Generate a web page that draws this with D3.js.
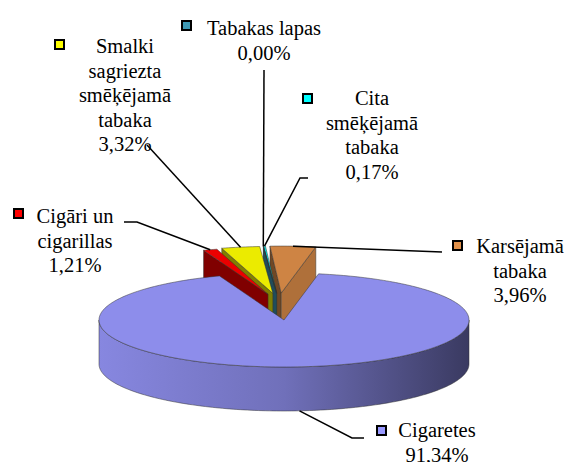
<!DOCTYPE html>
<html>
<head>
<meta charset="utf-8">
<script src="https://cdn.jsdelivr.net/npm/d3@7"></script>
<style>
  body { margin: 0; background: #fff; }
  svg { display: block; }
</style>
</head>
<body>
<div id="chart"></div>
<script>
// Data, clockwise starting from the left edge of the gap in the big slice
var categories = ["Cigāri un\ncigarillas", "Smalki\nsagriezta\nsmēķējamā\ntabaka", "Tabakas lapas",
                  "Cita\nsmēķējamā\ntabaka", "Karsējamā\ntabaka", "Cigaretes"];
var shares = [1.21, 3.32, 0.00, 0.17, 3.96, 91.34];
var exploded = [true, true, true, true, true, false];
var colors = ["#ff0000", "#ffff00", "#3f9ab5", "#00ffff", "#e0904a", "#9999ff"];

// Label layout (text centre / first baseline, legend key, leader elbow points)
var labelPos = [[75, 223], [125, 53], [264, 35], [372, 105], [520, 253], [437, 437]];
var keyPos = [[13, 208], [54, 39], [181, 20], [302, 93], [452, 240], [376, 425]];
var leaderStart = [[[124, 222], [137, 222]], [[147, 145]], [[264, 70]],
                   [[308, 178], [300, 178]], [[442, 252]], [[364, 438], [352, 438]]];

var W = 567, H = 462;
var cx = 284, cy = 320, rx = 185, ry = 47, depth = 44;
var lineH = 24.5;
var explodeX = 35, explodeY = 27, shiftX = -5;
var startAngle = -20.4 * Math.PI / 180;

var svg = d3.select("#chart").append("svg")
    .attr("width", W)
    .attr("height", H);

var defs = svg.append("defs");

var sx = d3.scaleLinear().domain([-1, 1]).range([cx - rx, cx + rx]);
var sy = d3.scaleLinear().domain([-1, 1]).range([cy - ry, cy + ry]);

function shade(c, k) {
    var r = d3.rgb(c);
    return d3.rgb(r.r * k, r.g * k, r.b * k).formatHex();
}

// project an angle/radius/height onto the tilted pie
function pt(a, r, z, off) {
    return [sx(r * Math.sin(a)) + off[0], sy(-r * Math.cos(a)) + off[1] + z];
}

function arcPts(a0, a1, z, off) {
    var n = Math.max(2, Math.ceil(Math.abs(a1 - a0) / 0.02));
    return d3.range(n + 1).map(function(i) { return pt(a0 + (a1 - a0) * i / n, 1, z, off); });
}

var line = d3.line();

var pie = d3.pie()
    .sort(null)
    .value(function(d) { return d; })
    .startAngle(startAngle)
    .endAngle(startAngle + 2 * Math.PI);

var arcs = pie(shares).map(function(d, i) {
    var mid = (d.startAngle + d.endAngle) / 2;
    d.index = i;
    d.mid = mid;
    d.off = exploded[i] ? [shiftX + explodeX * Math.sin(mid), -explodeY * Math.cos(mid)] : [0, 0];
    return d;
});

// painter's order: the slices furthest back first
var order = arcs.slice().sort(function(a, b) { return Math.cos(b.mid) - Math.cos(a.mid); });

var pieG = svg.append("g").attr("class", "pie");

order.forEach(function(d) {
    var i = d.index, c = colors[i], off = d.off;
    var a0 = d.startAngle, a1 = d.endAngle;
    var g = pieG.append("g").attr("class", "slice");

    // cut faces
    if (Math.sin(a0) < 0) {
        g.append("path")
            .attr("d", line([pt(a0, 0, 0, off), pt(a0, 1, 0, off), pt(a0, 1, depth, off), pt(a0, 0, depth, off)]) + "Z")
            .attr("fill", shade(c, 0.5))
            .attr("stroke", "#333").attr("stroke-width", 0.5).attr("stroke-linejoin", "round");
    }
    if (Math.sin(a1) > 0 && a1 > a0) {
        g.append("path")
            .attr("d", line([pt(a1, 0, 0, off), pt(a1, 1, 0, off), pt(a1, 1, depth, off), pt(a1, 0, depth, off)]) + "Z")
            .attr("fill", shade(c, 0.78))
            .attr("stroke", "#333").attr("stroke-width", 0.5).attr("stroke-linejoin", "round");
    }

    // outer wall, front half only
    var b0 = Math.max(a0, Math.PI / 2), b1 = Math.min(a1, 3 * Math.PI / 2);
    if (b1 > b0) {
        var gid = "wall" + i;
        var grad = defs.append("linearGradient")
            .attr("id", gid)
            .attr("gradientUnits", "userSpaceOnUse")
            .attr("x1", cx - rx).attr("x2", cx + rx).attr("y1", 0).attr("y2", 0);
        [[0, 0.88], [0.5, 0.73], [0.8, 0.52], [1, 0.38]].forEach(function(s) {
            grad.append("stop").attr("offset", s[0]).attr("stop-color", shade(c, s[1]));
        });
        g.append("path")
            .attr("d", line(arcPts(b0, b1, 0, off).concat(arcPts(b1, b0, depth, off))) + "Z")
            .attr("fill", "url(#" + gid + ")")
            .attr("stroke", "#333").attr("stroke-width", 0.5);
    }

    // top face
    g.append("path")
        .attr("d", line([pt(0, 0, 0, off)].concat(arcPts(a0, a1, 0, off))) + "Z")
        .attr("fill", shade(c, 0.92))
        .attr("stroke", "#333").attr("stroke-width", 0.5).attr("stroke-linejoin", "round");
});

// leader lines
var leaders = svg.append("g").attr("class", "leaders");
arcs.forEach(function(d) {
    var front = Math.cos(d.mid) < 0;
    var end = pt(d.mid, 1, front ? depth : 0, d.off);
    leaders.append("path")
        .attr("d", line(leaderStart[d.index].concat([end])))
        .attr("fill", "none")
        .attr("stroke", "#000")
        .attr("stroke-width", 1.5);
});

// labels
var fmt = function(v) { return d3.format(".2f")(v).replace(".", ",") + "%"; };
var labels = svg.append("g").attr("class", "labels");

arcs.forEach(function(d) {
    var i = d.index;
    labels.append("rect")
        .attr("x", keyPos[i][0] + 1)
        .attr("y", keyPos[i][1] + 1)
        .attr("width", 9)
        .attr("height", 9)
        .attr("fill", colors[i])
        .attr("stroke", "#000")
        .attr("stroke-width", 2);

    var lines = (categories[i] + "\n" + fmt(shares[i])).split("\n");
    var t = labels.append("text")
        .attr("font-family", "Liberation Serif")
        .attr("font-size", "20.5px")
        .attr("fill", "#000")
        .attr("text-anchor", "middle");
    lines.forEach(function(s, k) {
        t.append("tspan")
            .attr("x", labelPos[i][0])
            .attr("y", labelPos[i][1] + k * lineH)
            .text(s);
    });
});
</script>
</body>
</html>
